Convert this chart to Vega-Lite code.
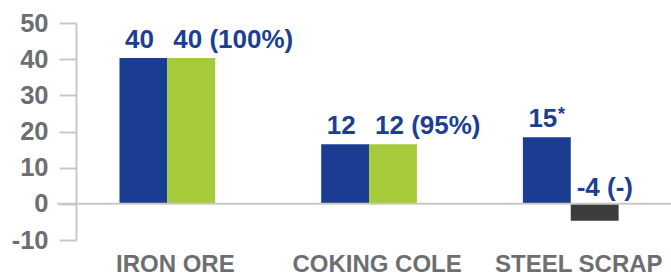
{
  "$schema": "https://vega.github.io/schema/vega-lite/v6.json",
  "width": 614,
  "height": 217,
  "autosize": {"type": "none"},
  "padding": {"left": 57, "top": 23, "right": 0, "bottom": 35},
  "background": "white",
  "config": {
    "view": {"stroke": null},
    "font": "Liberation Sans",
    "axisX": {"domain": false, "ticks": false, "labelPadding": 12, "labelOffset": 8, "labelAngle": 0,
              "labelOverlap": false, "labelFont": "Liberation Sans", "labelFontWeight": "bold",
              "labelFontSize": 24, "labelColor": "#6d6e71", "grid": false},
    "axisY": {"labelOverlap": false, "offset": -19, "tickSize": 17, "tickWidth": 2,
              "tickColor": "#c7c8ca", "domainColor": "#c7c8ca", "domainWidth": 2, "labelPadding": 11,
              "labelFont": "Liberation Sans", "labelFontWeight": "bold", "labelFontSize": 25.5,
              "labelColor": "#6d6e71", "grid": false}
  },
  "data": {
    "values": [
      {"material": "IRON ORE", "series": "A", "kind": "blue", "value": 40.3, "label": "40", "note": ""},
      {"material": "IRON ORE", "series": "B", "kind": "green", "value": 40.3, "label": "40 (100%)", "note": ""},
      {"material": "COKING COLE", "series": "A", "kind": "blue", "value": 16.5, "label": "12", "note": ""},
      {"material": "COKING COLE", "series": "B", "kind": "green", "value": 16.5, "label": "12 (95%)", "note": ""},
      {"material": "STEEL SCRAP", "series": "A", "kind": "blue", "value": 18.4, "label": "15", "note": "*"},
      {"material": "STEEL SCRAP", "series": "B", "kind": "grey", "value": -4.7, "label": "-4 (-)", "note": ""}
    ]
  },
  "layer": [
    {
      "mark": {"type": "bar"},
      "encoding": {
        "x": {
          "field": "material", "type": "nominal", "sort": null, "title": null,
          "scale": {"paddingInner": 0.5255, "paddingOuter": 0.2848, "align": 0.544, "round": false},
          "axis": {"title": null}
        },
        "xOffset": {"field": "series", "type": "nominal", "scale": {"paddingInner": 0, "paddingOuter": 0}},
        "y": {
          "field": "value", "type": "quantitative", "title": null,
          "scale": {"domain": [-10, 50], "nice": false, "zero": false},
          "axis": {"values": [-10, 0, 10, 20, 30, 40, 50], "labelExpr": "'' + datum.value", "title": null}
        },
        "color": {"field": "kind", "type": "nominal",
                  "scale": {"domain": ["blue", "green", "grey"], "range": ["#1b3d91", "#a6cb3a", "#3d3d3d"]},
                  "legend": null}
      }
    },
    {
      "data": {"values": [{"zero": 0}]},
      "mark": {"type": "rule", "color": "#c7c8ca", "strokeWidth": 2},
      "encoding": {"y": {"field": "zero", "type": "quantitative", "title": null,
                         "axis": {"values": [-10, 0, 10, 20, 30, 40, 50], "labelExpr": "'' + datum.value", "title": null}}}
    },
    {
      "transform": [{"filter": "datum.series == 'A'"}],
      "mark": {"type": "text", "align": "center", "baseline": "alphabetic", "dx": -4, "dy": -10,
               "font": "Liberation Sans", "fontWeight": "bold", "fontSize": 26, "color": "#1c3f94"},
      "encoding": {
        "x": {"field": "material", "type": "nominal", "sort": null, "title": null, "axis": {"title": null}},
        "xOffset": {"field": "series", "type": "nominal"},
        "y": {"field": "value", "type": "quantitative", "title": null,
              "axis": {"values": [-10, 0, 10, 20, 30, 40, 50], "labelExpr": "'' + datum.value", "title": null}},
        "text": {"field": "label"}
      }
    },
    {
      "transform": [{"filter": "datum.note != ''"}],
      "mark": {"type": "text", "align": "left", "baseline": "alphabetic", "dx": 11, "dy": -17,
               "font": "Liberation Sans", "fontWeight": "bold", "fontSize": 19, "color": "#1c3f94"},
      "encoding": {
        "x": {"field": "material", "type": "nominal", "sort": null, "title": null, "axis": {"title": null}},
        "xOffset": {"field": "series", "type": "nominal"},
        "y": {"field": "value", "type": "quantitative", "title": null,
              "axis": {"values": [-10, 0, 10, 20, 30, 40, 50], "labelExpr": "'' + datum.value", "title": null}},
        "text": {"field": "note"}
      }
    },
    {
      "transform": [{"filter": "datum.series == 'B' && datum.value > 0"}],
      "mark": {"type": "text", "align": "left", "baseline": "alphabetic", "dx": -18, "dy": -10,
               "font": "Liberation Sans", "fontWeight": "bold", "fontSize": 26, "color": "#1c3f94"},
      "encoding": {
        "x": {"field": "material", "type": "nominal", "sort": null, "title": null, "axis": {"title": null}},
        "xOffset": {"field": "series", "type": "nominal"},
        "y": {"field": "value", "type": "quantitative", "title": null,
              "axis": {"values": [-10, 0, 10, 20, 30, 40, 50], "labelExpr": "'' + datum.value", "title": null}},
        "text": {"field": "label"}
      }
    },
    {
      "transform": [{"filter": "datum.value < 0"}],
      "mark": {"type": "text", "align": "left", "baseline": "alphabetic", "dx": -18, "dy": -8,
               "font": "Liberation Sans", "fontWeight": "bold", "fontSize": 26, "color": "#1c3f94"},
      "encoding": {
        "x": {"field": "material", "type": "nominal", "sort": null, "title": null, "axis": {"title": null}},
        "xOffset": {"field": "series", "type": "nominal"},
        "y": {"datum": 0, "type": "quantitative",
              "axis": {"values": [-10, 0, 10, 20, 30, 40, 50], "labelExpr": "'' + datum.value", "title": null}},
        "text": {"field": "label"}
      }
    }
  ]
}
